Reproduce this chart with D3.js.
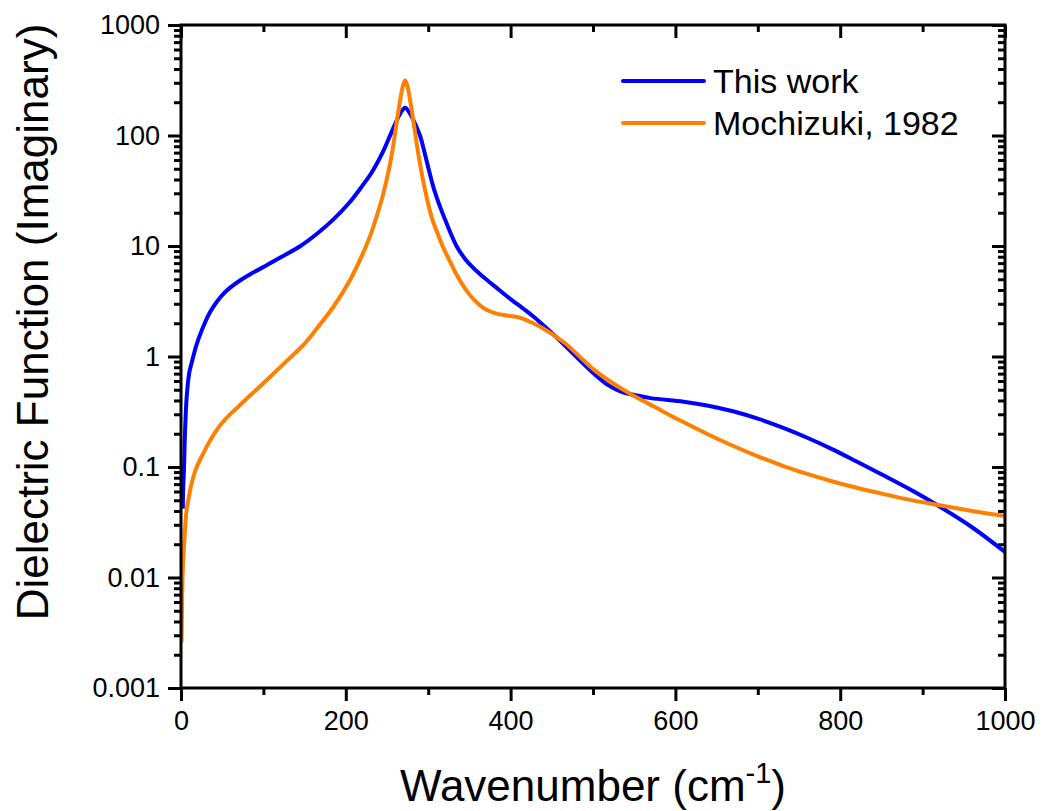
<!DOCTYPE html>
<html>
<head>
<meta charset="utf-8">
<script src="https://cdn.jsdelivr.net/npm/d3@7"></script>
<style>
  body { margin: 0; background: #fff; }
  text { font-family: Arial, "Liberation Sans", sans-serif; fill: #000; }
</style>
</head>
<body>
<div id="chart"></div>
<script>
// values
var seriesNames = ["This work", "Mochizuki, 1982"];

var blueX = [2.2, 2.6, 3.6, 5, 7, 10, 13, 19, 25.5, 35, 44, 52, 60, 72, 84, 105, 124, 145, 165, 185,
             205, 220, 232, 245, 255, 262, 267, 272, 277, 282, 290, 296, 302, 308, 315, 321, 327, 335, 345, 355,
             363, 375, 388, 400, 416, 428, 440, 455, 469, 485, 501, 517, 533, 549, 570, 610, 640, 671, 700, 731,
             760, 792, 820, 853, 885, 914, 960, 1000];
var blueY = [0.042, 0.063, 0.095, 0.22, 0.44, 0.71, 0.88, 1.29, 1.75, 2.5, 3.16, 3.72, 4.22, 4.9, 5.56, 6.76, 8.13, 10.0, 12.9, 17.4,
             25, 35, 47, 71, 105, 138, 162, 178, 162, 138, 100, 68, 45, 31, 22, 17, 13.2, 9.8, 7.6, 6.3,
             5.56, 4.68, 3.9, 3.31, 2.69, 2.29, 1.91, 1.51, 1.19, 0.91, 0.70, 0.56, 0.484, 0.45, 0.42, 0.39, 0.359, 0.318, 0.274, 0.226,
             0.184, 0.143, 0.112, 0.0836, 0.0625, 0.047, 0.0285, 0.017];

var orangeX = [0.7, 1.2, 1.8, 2.8, 4, 5.5, 7, 10, 13, 19, 25.5, 33, 41, 50, 60, 70, 85, 98, 115, 130,
               150, 165, 185, 205, 220, 230, 238, 245, 252, 257, 262, 266, 269, 272, 275, 278, 282, 287, 292, 300,
               305, 310, 318, 327, 335, 345, 355, 367, 379, 395, 412, 425, 436, 465, 485, 501, 520, 545, 575, 606,
               640, 671, 700, 731, 760, 792, 820, 853, 885, 914, 960, 1000];
var orangeY = [0.0026, 0.005, 0.0098, 0.015, 0.021, 0.032, 0.042, 0.056, 0.072, 0.1, 0.126, 0.162, 0.204, 0.251, 0.302, 0.355, 0.452, 0.556, 0.733, 0.938,
               1.31, 1.8, 2.82, 4.9, 8.3, 12.6, 19.1, 28.8, 48, 76, 135, 209, 275, 316, 275, 209, 135, 76, 46, 24,
               17.4, 13.8, 9.8, 7.1, 5.4, 4.1, 3.3, 2.75, 2.5, 2.35, 2.24, 2.04, 1.86, 1.34, 0.98, 0.76, 0.6, 0.46, 0.349, 0.263,
               0.197, 0.154, 0.125, 0.102, 0.0865, 0.0736, 0.0649, 0.0568, 0.0504, 0.046, 0.040, 0.036];

var xTicks = [0, 200, 400, 600, 800, 1000];
var xMinor = [100, 300, 500, 700, 900];
var yTicks = [0.001, 0.01, 0.1, 1, 10, 100, 1000];
var yLabels = ["0.001", "0.01", "0.1", "1", "10", "100", "1000"];

var width = 1042, height = 811;
var margin = { top: 25, right: 37, bottom: 123, left: 181 };
var w = width - margin.left - margin.right;
var h = height - margin.top - margin.bottom;

var svg = d3.select("#chart").append("svg")
    .attr("width", width)
    .attr("height", height)
  .append("g")
    .attr("transform", "translate(" + margin.left + "," + margin.top + ")");

var x = d3.scaleLinear().domain([0, 1000]).range([0, w]);
var y = d3.scaleLog().domain([0.001, 1000]).range([h, 0]);

var yMinor = [];
yTicks.slice(0, -1).forEach(function (d) {
  for (var k = 2; k <= 9; k++) yMinor.push(k * d);
});

function styleAxis(g) {
  g.select(".domain").remove();
  g.selectAll(".tick line").attr("stroke", "#000").attr("stroke-width", 3);
  g.selectAll(".tick text").style("font-size", "27px").attr("fill", "#000");
}

// bottom (outward)
svg.append("g").attr("transform", "translate(0," + h + ")")
  .call(d3.axisBottom(x).tickValues(xMinor).tickSize(7).tickFormat(""))
  .call(styleAxis);
svg.append("g").attr("transform", "translate(0," + h + ")")
  .call(d3.axisBottom(x).tickValues(xTicks).tickSize(13).tickPadding(10).tickFormat(d3.format("d")))
  .call(styleAxis);

// top (inward)
svg.append("g")
  .call(d3.axisTop(x).tickValues(xMinor).tickSize(-7).tickFormat(""))
  .call(styleAxis);
svg.append("g")
  .call(d3.axisTop(x).tickValues(xTicks).tickSize(-13).tickFormat(""))
  .call(styleAxis);

// left (outward)
svg.append("g")
  .call(d3.axisLeft(y).tickValues(yMinor).tickSize(7).tickFormat(""))
  .call(styleAxis);
svg.append("g")
  .call(d3.axisLeft(y).tickValues(yTicks).tickSize(13).tickPadding(8)
    .tickFormat(function (d, i) { return yLabels[i]; }))
  .call(styleAxis);

// right (inward)
svg.append("g").attr("transform", "translate(" + w + ",0)")
  .call(d3.axisRight(y).tickValues(yMinor).tickSize(-7).tickFormat(""))
  .call(styleAxis);
svg.append("g").attr("transform", "translate(" + w + ",0)")
  .call(d3.axisRight(y).tickValues(yTicks).tickSize(-13).tickFormat(""))
  .call(styleAxis);

svg.append("clipPath").attr("id", "clip")
  .append("rect").attr("width", w).attr("height", h);

var line = d3.line()
  .x(function (d) { return x(d[0]); })
  .y(function (d) { return y(d[1]); })
  .curve(d3.curveCatmullRom.alpha(0.5));

var series = [
  { name: seriesNames[0], xs: blueX, ys: blueY, color: "#0000ff" },
  { name: seriesNames[1], xs: orangeX, ys: orangeY, color: "#ff8000" }
];

series.forEach(function (s) {
  svg.append("path")
    .datum(d3.zip(s.xs, s.ys))
    .attr("clip-path", "url(#clip)")
    .attr("fill", "none")
    .attr("stroke", s.color)
    .attr("stroke-width", 4)
    .attr("stroke-linejoin", "round")
    .attr("d", line);
});

// frame
svg.append("rect")
  .attr("width", w).attr("height", h)
  .attr("fill", "none").attr("stroke", "#000").attr("stroke-width", 3);

// legend
var legend = svg.append("g").attr("transform", "translate(442,56)");
series.forEach(function (s, i) {
  legend.append("line")
    .attr("x1", 0).attr("x2", 81)
    .attr("y1", i * 42).attr("y2", i * 42)
    .attr("stroke", s.color).attr("stroke-width", 4).attr("stroke-linecap", "round");
  legend.append("text")
    .attr("x", 90).attr("y", i * 42 + 12)
    .style("font-size", "34px")
    .text(s.name);
});

// axis titles
var xt = svg.append("text")
  .attr("x", w / 2).attr("y", h + 113)
  .attr("text-anchor", "middle")
  .style("font-size", "44px");
xt.append("tspan").text("Wavenumber (cm");
xt.append("tspan").attr("dy", -18).style("font-size", "29px").text("-1");
xt.append("tspan").attr("dy", 18).text(")");

svg.append("text")
  .attr("transform", "translate(" + (48 - margin.left) + "," + (322 - margin.top) + ") rotate(-90)")
  .attr("text-anchor", "middle")
  .style("font-size", "44px")
  .text("Dielectric Function (Imaginary)");
</script>
</body>
</html>
